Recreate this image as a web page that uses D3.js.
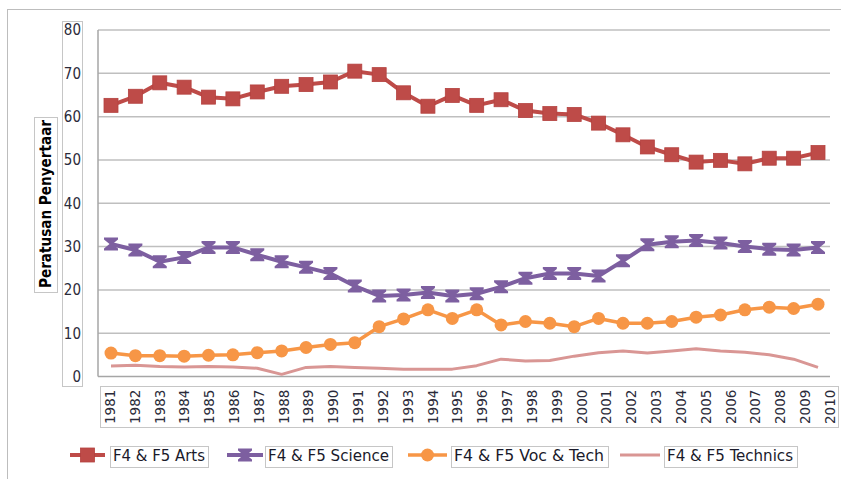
<!DOCTYPE html>
<html><head><meta charset="utf-8">
<script src="https://cdn.jsdelivr.net/npm/d3@7/dist/d3.min.js"></script>
<style>body{margin:0;background:#fff;}svg{display:block;}</style>
</head><body><svg id="c" width="841" height="479"></svg>
<script>
const years = [1981,1982,1983,1984,1985,1986,1987,1988,1989,1990,1991,1992,1993,1994,1995,1996,1997,1998,1999,2000,2001,2002,2003,2004,2005,2006,2007,2008,2009,2010];
const arts = [62.6,64.7,67.8,66.8,64.5,64.1,65.7,67.0,67.4,68.0,70.5,69.7,65.5,62.4,64.9,62.6,63.9,61.4,60.7,60.5,58.5,55.8,53.0,51.2,49.5,49.9,49.1,50.4,50.4,51.7];
const science = [30.6,29.2,26.5,27.5,29.8,29.8,28.1,26.5,25.2,23.8,20.9,18.6,18.8,19.4,18.6,19.1,20.7,22.7,23.8,23.8,23.2,26.7,30.4,31.1,31.4,30.8,30.0,29.4,29.2,29.8];
const vocTech = [5.4,4.8,4.8,4.7,4.9,5.0,5.5,5.9,6.7,7.4,7.8,11.5,13.3,15.4,13.4,15.4,11.9,12.7,12.3,11.5,13.4,12.3,12.3,12.7,13.7,14.2,15.4,16.0,15.7,16.7];
const technics = [2.4,2.6,2.3,2.2,2.3,2.2,1.9,0.5,2.1,2.3,2.1,1.9,1.7,1.7,1.7,2.5,4.0,3.6,3.7,4.7,5.5,5.9,5.4,5.9,6.4,5.9,5.6,5.0,4.0,2.1];
const yTicks = [0,10,20,30,40,50,60,70,80];
const seriesNames = ["F4 & F5 Arts","F4 & F5 Science","F4 & F5 Voc & Tech","F4 & F5 Technics"];
const yTitle = "Peratusan Penyertaar";

const svg = d3.select("#c");
const font = "'DejaVu Sans Condensed','DejaVu Sans',sans-serif";
const x = d3.scalePoint().domain(years).range([111, 818]);
const xl = d3.scalePoint().domain(years).range([110, 830]);
const y = d3.scaleLinear().domain([0, 80]).range([376.5, 30]);

// outer frame
svg.append("rect").attr("x",7.5).attr("y",9.5).attr("width",840).attr("height",480)
  .attr("fill","none").attr("stroke","#bdbdbd").attr("stroke-width",1);

// gridlines
svg.append("g").selectAll("line").data(yTicks.filter(d=>d>0)).join("line")
  .attr("x1",98).attr("x2",830).attr("y1",d=>y(d)).attr("y2",d=>y(d))
  .attr("stroke","#bfbfbf").attr("stroke-width",1.5);
// axes lines
svg.append("line").attr("x1",98).attr("x2",98).attr("y1",y(80)).attr("y2",y(0)).attr("stroke","#a6a6a6").attr("stroke-width",1.5);
svg.append("line").attr("x1",98).attr("x2",830).attr("y1",y(0)).attr("y2",y(0)).attr("stroke","#a6a6a6").attr("stroke-width",1.5);

function dotBox(x0,y0,w,h){
  svg.append("rect").attr("x",x0+0.5).attr("y",y0+0.5).attr("width",w).attr("height",h)
    .attr("fill","none").attr("stroke","#8c8c8c").attr("stroke-width",1).attr("stroke-dasharray","1,1");
}

// y tick labels
dotBox(62,21,20,365);
svg.append("g").selectAll("text").data(yTicks).join("text")
  .attr("x",81).attr("y",d=>y(d)).attr("dy","0.36em").attr("text-anchor","end")
  .attr("font-family",font).attr("font-size",15).attr("fill","#2b2b3a").text(d=>d);

// x tick labels
dotBox(100,386,738,41);
svg.append("g").selectAll("text").data(years).join("text")
  .attr("transform",d=>`translate(${xl(d)},424) rotate(-90)`)
  .attr("dy","0.36em").attr("text-anchor","start")
  .attr("font-family","'DejaVu Sans',sans-serif").attr("font-size",13.5).attr("fill","#2b2b3a").text(d=>d);

// y title
dotBox(34,117,23,175);
svg.append("text").attr("transform","translate(46,204) rotate(-90)").attr("dy","0.36em")
  .attr("text-anchor","middle").attr("font-family",font).attr("font-weight","bold").attr("font-size",15)
  .attr("textLength",168).attr("lengthAdjust","spacingAndGlyphs").attr("fill","#000").text(yTitle);

const colors = ["#be4b48","#7d5fa0","#f79646","#d99694"];
const data = [arts, science, vocTech, technics];
const widths = [4, 4, 3.5, 3];
const line = d3.line().x((d,i)=>x(years[i])).y(d=>y(d));

// draw order: technics, voc, science, arts
[3,2,1,0].forEach(k=>{
  svg.append("path").datum(data[k]).attr("d",line).attr("fill","none")
    .attr("stroke",colors[k]).attr("stroke-width",widths[k]).attr("stroke-linejoin","round");
});

const hourglass = "M-7,-6.5 L7,-6.5 L7,-4.5 L1.5,0 L7,4.5 L7,6.5 L-7,6.5 L-7,4.5 L-1.5,0 L-7,-4.5 Z";
function marker(g,k,cx,cy){
  if(k===0) g.append("rect").attr("x",cx-7).attr("y",cy-7).attr("width",14).attr("height",14).attr("fill",colors[0]).attr("stroke","#b4413f").attr("stroke-width",0.8);
  else if(k===1) g.append("path").attr("d",hourglass).attr("transform",`translate(${cx},${cy})`).attr("fill",colors[1]);
  else if(k===2) g.append("circle").attr("cx",cx).attr("cy",cy).attr("r",6.5).attr("fill",colors[2]);
}
[2,1,0].forEach(k=>{
  const g = svg.append("g");
  data[k].forEach((v,i)=>marker(g,k,x(years[i]),y(v)));
});

// legend
const leg = [
  {lx1:70,lx2:105,bx:110,bw:98,tl:92},
  {lx1:227,lx2:263,bx:265,bw:127,tl:121},
  {lx1:408,lx2:447,bx:451,bw:157,tl:150},
  {lx1:620,lx2:660,bx:664,bw:133,tl:126}
];
leg.forEach((L,k)=>{
  const ly = 455;
  svg.append("line").attr("x1",L.lx1).attr("x2",L.lx2).attr("y1",ly).attr("y2",ly).attr("stroke",colors[k]).attr("stroke-width",widths[k]);
  marker(svg,k,(L.lx1+L.lx2)/2,ly);
  dotBox(L.bx,446,L.bw,21);
  svg.append("text").attr("x",L.bx+3).attr("y",ly).attr("dy","0.36em")
    .attr("font-family",font).attr("font-size",16).attr("fill","#1a1a2a")
    .attr("textLength",L.tl).attr("lengthAdjust","spacingAndGlyphs").text(seriesNames[k]);
});
</script></body></html>
